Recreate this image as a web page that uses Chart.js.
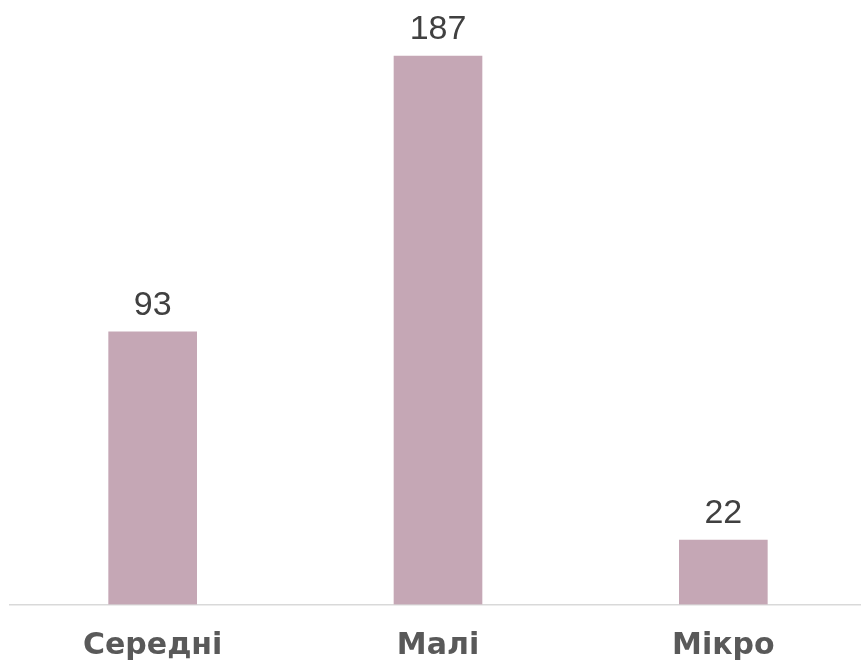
<!DOCTYPE html>
<html>
<head>
<meta charset="utf-8">
<script src="https://cdn.jsdelivr.net/npm/chart.js@4/dist/chart.umd.min.js"></script>
<style>
html,body{margin:0;padding:0;background:#fff;overflow:hidden;}
#wrap{width:866px;height:660px;position:relative;}
</style>
</head>
<body>
<div id="wrap"><canvas id="c" width="866" height="660"></canvas></div>
<script>
const categories = ["Середні", "Малі", "Мікро"];
const values = [93, 187, 22];

const valueLabels = {
  id: 'valueLabels',
  afterDatasetsDraw(chart) {
    const ctx = chart.ctx;
    const meta = chart.getDatasetMeta(0);
    ctx.save();
    ctx.font = '34px "Liberation Sans", Arial, sans-serif';
    ctx.fillStyle = '#404040';
    ctx.textAlign = 'center';
    ctx.textBaseline = 'alphabetic';
    meta.data.forEach((bar, i) => {
      ctx.fillText(String(values[i]), bar.x, bar.y - 17);
    });
    ctx.restore();
  }
};

new Chart(document.getElementById('c'), {
  type: 'bar',
  data: {
    labels: categories,
    datasets: [{
      data: values,
      backgroundColor: '#C5A7B5',
      borderWidth: 0,
      barThickness: 88
    }]
  },
  options: {
    responsive: false,
    animation: false,
    devicePixelRatio: 1,
    layout: { padding: { left: 10, right: 0, top: 18, bottom: 0 } },
    plugins: { legend: { display: false }, tooltip: { enabled: false } },
    scales: {
      y: {
        display: false,
        min: 0,
        max: 200
      },
      x: {
        grid: { display: false, drawTicks: false },
        border: { display: true, color: '#D9D9D9', width: 1.5 },
        ticks: {
          color: '#595959',
          font: { family: '"DejaVu Sans", sans-serif', size: 30, weight: 'bold' },
          padding: 24
        },
        afterFit(scale) { scale.height = 55.5; }
      }
    }
  },
  plugins: [valueLabels]
});
</script>
</body>
</html>
